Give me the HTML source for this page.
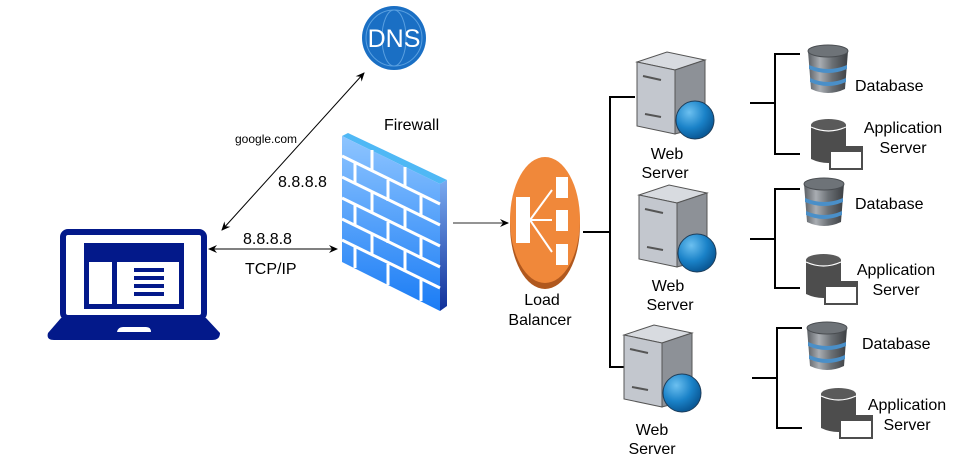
<!DOCTYPE html>
<html><head><meta charset="utf-8"><style>
html,body{margin:0;padding:0;background:#fff;}
svg{display:block;}
text{font-family:"Liberation Sans",Arial,sans-serif;fill:#000;}
</style></head><body>
<svg width="965" height="471" viewBox="0 0 965 471" xmlns="http://www.w3.org/2000/svg">
<defs>
<marker id="ah" markerWidth="10" markerHeight="10" refX="8" refY="5" orient="auto-start-reverse" markerUnits="userSpaceOnUse">
<path d="M0,1 L9,5 L0,9 L3,5 Z" fill="#000"/></marker>
<linearGradient id="fw" x1="0" y1="0" x2="0" y2="1"><stop offset="0" stop-color="#8ec5ff"/><stop offset="1" stop-color="#1a7cf5"/></linearGradient>
<linearGradient id="fws" x1="0" y1="0" x2="0" y2="1"><stop offset="0" stop-color="#7aaaf0"/><stop offset="1" stop-color="#10309a"/></linearGradient>
<radialGradient id="gl" cx="0.35" cy="0.3" r="0.7"><stop offset="0" stop-color="#6cc0f0"/><stop offset="0.6" stop-color="#1a82c8"/><stop offset="1" stop-color="#0a5a98"/></radialGradient>
<linearGradient id="dbg" x1="0" y1="0" x2="1" y2="0"><stop offset="0" stop-color="#5a5e63"/><stop offset="0.3" stop-color="#a9adb2"/><stop offset="0.6" stop-color="#6c7176"/><stop offset="1" stop-color="#3c3f43"/></linearGradient>
<g id="srv">
<polygon points="0,10 30,0 68,8 38,18" fill="#d8dbe0" stroke="#555" stroke-width="1"/>
<polygon points="0,10 38,18 38,82 0,74" fill="#c3c7ce" stroke="#555" stroke-width="1"/>
<polygon points="38,18 68,8 68,74 38,82" fill="#8d9197" stroke="#555" stroke-width="1"/>
<line x1="6" y1="24" x2="24" y2="28" stroke="#555" stroke-width="2"/>
<line x1="8" y1="62" x2="24" y2="65" stroke="#555" stroke-width="2"/>
<circle cx="58" cy="68" r="19" fill="url(#gl)" stroke="#1d3d5a" stroke-width="1"/>
</g>
<g id="db">
<path d="M0,6 L3,44 Q20,52 37,44 L40,6 Z" fill="url(#dbg)"/>
<ellipse cx="20" cy="6" rx="20" ry="6" fill="#6e7378" stroke="#4a4e52"/>
<path d="M1,20 Q20,28 39,20 L39,24 Q20,32 1,24Z" fill="#4a8fc8"/>
<path d="M2,33 Q20,41 38,33 L38,37 Q20,45 2,37Z" fill="#4a8fc8"/>
</g>
<g id="app">
<path d="M0,6 L0,40 Q17,48 35,40 L35,6 Z" fill="#4d4d4d"/>
<ellipse cx="17.5" cy="6" rx="17.5" ry="6" fill="#5a5a5a"/>
<path d="M0,8 Q17.5,16 35,8" fill="none" stroke="#fff" stroke-width="1.2"/>
<rect x="19" y="28" width="32" height="22" fill="#fff" stroke="#4d4d4d" stroke-width="2"/>
<rect x="19" y="28" width="32" height="5" fill="#4d4d4d"/>
</g>
</defs>

<!-- laptop -->
<rect x="63" y="232" width="141" height="86" rx="5" fill="#fff" stroke="#03198a" stroke-width="6"/>
<rect x="84" y="243" width="100" height="66" fill="#03198a"/>
<rect x="89" y="262" width="23" height="42" fill="#fff"/>
<rect x="117" y="262" width="62" height="42" fill="#fff"/>
<rect x="134" y="268" width="30" height="4" fill="#03198a"/>
<rect x="134" y="276" width="30" height="4" fill="#03198a"/>
<rect x="134" y="284" width="30" height="4" fill="#03198a"/>
<rect x="134" y="292" width="30" height="4" fill="#03198a"/>
<path d="M61,318 L206,318 L220,333 Q220,340 212,340 L54,340 Q46,340 48,333 Z" fill="#03198a"/>
<path d="M117,332 Q118,327 123,327 L146,327 Q151,327 151,332 Z" fill="#fff"/>

<!-- DNS -->
<circle cx="394" cy="38" r="32" fill="#1a6fc4"/>
<circle cx="394" cy="38" r="28" fill="none" stroke="#5aa0e0" stroke-width="1"/>
<ellipse cx="394" cy="38" rx="12" ry="28" fill="none" stroke="#5aa0e0" stroke-width="1"/>
<text x="394" y="47" font-size="25" text-anchor="middle" style="fill:#fff">DNS</text>

<!-- arrows -->
<line x1="222" y1="230" x2="364" y2="73" stroke="#000" stroke-width="1" marker-start="url(#ah)" marker-end="url(#ah)"/>
<line x1="209" y1="249" x2="337" y2="249" stroke="#000" stroke-width="1" marker-start="url(#ah)" marker-end="url(#ah)"/>
<text x="235" y="143" font-size="12">google.com</text>
<text x="278" y="187" font-size="16">8.8.8.8</text>
<text x="243" y="244" font-size="16">8.8.8.8</text>
<text x="245" y="274" font-size="16">TCP/IP</text>
<text x="384" y="130" font-size="16">Firewall</text>

<!-- firewall -->
<polygon points="342,136 348,133 447,180 440,184" fill="#4fb8f5"/>
<polygon points="342,136 440,184 440,311 342,262" fill="url(#fw)"/>
<polygon points="440,184 447,180 447,306 440,311" fill="url(#fws)"/>
<g stroke="#fff" stroke-width="3">
<line x1="342" y1="156" x2="440" y2="204"/>
<line x1="342" y1="177" x2="440" y2="225"/>
<line x1="342" y1="198" x2="440" y2="246"/>
<line x1="342" y1="219" x2="440" y2="267"/>
<line x1="342" y1="240" x2="440" y2="288"/>
<line x1="372" y1="150" x2="372" y2="171"/><line x1="405" y1="167" x2="405" y2="188"/>
<line x1="355" y1="163" x2="355" y2="184"/><line x1="388" y1="180" x2="388" y2="201"/><line x1="421" y1="196" x2="421" y2="217"/>
<line x1="372" y1="192" x2="372" y2="213"/><line x1="405" y1="209" x2="405" y2="230"/>
<line x1="355" y1="205" x2="355" y2="226"/><line x1="388" y1="222" x2="388" y2="243"/><line x1="421" y1="238" x2="421" y2="259"/>
<line x1="372" y1="234" x2="372" y2="255"/><line x1="405" y1="251" x2="405" y2="272"/>
<line x1="355" y1="247" x2="355" y2="268"/><line x1="388" y1="264" x2="388" y2="285"/><line x1="421" y1="280" x2="421" y2="301"/>
</g>

<line x1="453" y1="223" x2="508" y2="223" stroke="#555" stroke-width="1.2" marker-end="url(#ah)"/>

<!-- load balancer -->
<ellipse cx="545" cy="225" rx="35" ry="64" fill="#b0581e"/>
<ellipse cx="545" cy="220" rx="35" ry="63" fill="#f0883a"/>
<rect x="516" y="197" width="14" height="46" fill="#fff"/>
<rect x="556" y="177" width="12" height="21" fill="#fff"/>
<rect x="556" y="210" width="12" height="21" fill="#fff"/>
<rect x="556" y="244" width="12" height="21" fill="#fff"/>
<g stroke="#fff" stroke-width="2"><line x1="530" y1="220" x2="552" y2="190"/><line x1="530" y1="220" x2="552" y2="220"/><line x1="530" y1="220" x2="552" y2="252"/></g>
<text x="542" y="305" font-size="16" text-anchor="middle">Load</text>
<text x="540" y="325" font-size="16" text-anchor="middle">Balancer</text>

<!-- server tree -->
<g stroke="#000" stroke-width="2" fill="none">
<line x1="583" y1="232" x2="610" y2="232"/>
<polyline points="635,97 610,97 610,367 635,367"/>
<line x1="750" y1="103" x2="775" y2="103"/><polyline points="800,54 775,54 775,154 800,154"/>
<line x1="750" y1="239" x2="775" y2="239"/><polyline points="800,189 775,189 775,288 800,288"/>
<line x1="752" y1="378" x2="777" y2="378"/><polyline points="802,328 777,328 777,428 802,428"/>
</g>

<use href="#srv" x="637" y="52"/>
<use href="#srv" x="639" y="185"/>
<use href="#srv" x="624" y="325"/>
<g font-size="16" text-anchor="middle">
<text x="667" y="159">Web</text><text x="665" y="178">Server</text>
<text x="668" y="291">Web</text><text x="670" y="310">Server</text>
<text x="652" y="435">Web</text><text x="652" y="454">Server</text>
</g>

<use href="#db" x="808" y="45"/>
<use href="#app" x="811" y="119"/>
<use href="#db" x="804" y="178"/>
<use href="#app" x="806" y="254"/>
<use href="#db" x="807" y="322"/>
<use href="#app" x="821" y="388"/>

<g font-size="16">
<text x="855" y="91">Database</text>
<text x="855" y="209">Database</text>
<text x="862" y="349">Database</text>
</g>
<g font-size="16" text-anchor="middle">
<text x="903" y="133">Application</text><text x="903" y="153">Server</text>
<text x="896" y="275">Application</text><text x="896" y="295">Server</text>
<text x="907" y="410">Application</text><text x="907" y="430">Server</text>
</g>
</svg>
</body></html>
